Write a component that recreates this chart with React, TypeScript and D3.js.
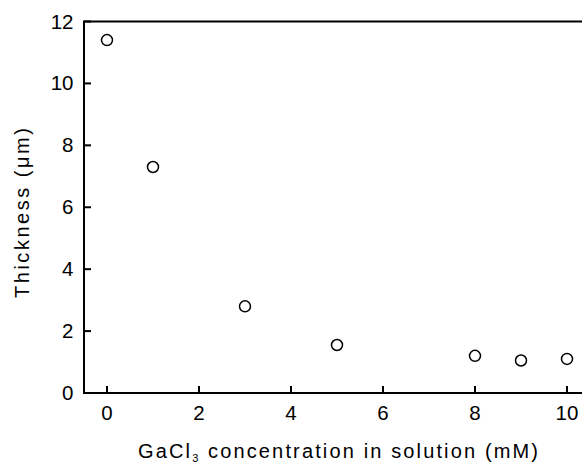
import React from "react";
import * as d3 from "d3";

const concentration = [0, 1, 3, 5, 8, 9, 10];
const thickness = [11.4, 7.3, 2.8, 1.55, 1.2, 1.05, 1.1];
const xTicks = [0, 2, 4, 6, 8, 10];
const yTicks = [0, 2, 4, 6, 8, 10, 12];

export default function App() {
  const W = 582, H = 464;
  const x = d3.scaleLinear().domain([0, 10]).range([107, 567]);
  const y = d3.scaleLinear().domain([0, 12]).range([393, 21.5]);
  const left = x(-0.5);
  const font = "'Liberation Sans', Arial, sans-serif";
  return (
    <svg width={W} height={H} style={{ position: "absolute", left: 0, top: 0, background: "#fff" }}>
      <g stroke="#000" strokeWidth={2} fill="none">
        <line x1={left} x2={left} y1={y(12)} y2={y(0) + 1} />
        <line x1={left - 1} x2={W} y1={y(0)} y2={y(0)} />
        <line x1={left - 1} x2={W} y1={y(12)} y2={y(12)} />
        {xTicks.map((t) => (
          <line key={"xt" + t} x1={x(t)} x2={x(t)} y1={y(0)} y2={y(0) - 7} />
        ))}
        {yTicks.map((t) => (
          <line key={"yt" + t} x1={left} x2={left + 7} y1={y(t)} y2={y(t)} />
        ))}
      </g>
      <g fontFamily={font} fontSize={20.5} fill="#000">
        {xTicks.map((t) => (
          <text key={"xl" + t} x={x(t)} y={420} textAnchor="middle">{t}</text>
        ))}
        {yTicks.map((t) => (
          <text key={"yl" + t} x={73.5} y={y(t) + 7} textAnchor="end">{t}</text>
        ))}
        <text x={138} y={458} fontSize={20} textLength={400} lengthAdjust="spacing">
          GaCl<tspan dy={3.5} fontSize={11}>3</tspan><tspan dy={-3.5}> concentration in solution (mM)</tspan>
        </text>
        <text transform={`translate(29,298) rotate(-90)`} fontSize={20} textLength={170} lengthAdjust="spacing">Thickness (μm)</text>
      </g>
      <g stroke="#000" strokeWidth={1.5} fill="#fff">
        {concentration.map((c, i) => (
          <circle key={i} cx={x(c)} cy={y(thickness[i])} r={5.5} />
        ))}
      </g>
    </svg>
  );
}
